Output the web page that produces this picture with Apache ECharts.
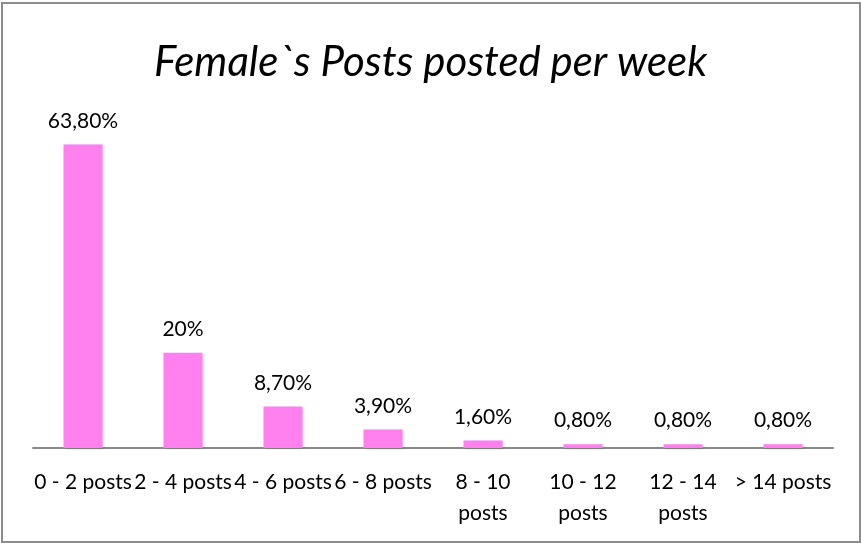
<!DOCTYPE html>
<html>
<head>
<meta charset="utf-8">
<style>
  html, body { margin: 0; padding: 0; background: #fff; }
  #frame { position: absolute; left: 1px; top: 2px; width: 856px; height: 537px; border: 2px solid #8c8c8c; box-sizing: content-box; }
  #chart { position: absolute; left: 0; top: 0; width: 861px; height: 543px; }
</style>
<script src="https://cdn.jsdelivr.net/npm/echarts@6/dist/echarts.min.js"></script>
</head>
<body>
<div id="frame"></div>
<div id="chart"></div>
<script>
const titleText = "Female`s Posts posted per week";
const categories = ["0 - 2 posts", "2 - 4 posts", "4 - 6 posts", "6 - 8 posts", "8 - 10\nposts", "10 - 12\nposts", "12 - 14\nposts", "> 14 posts"];
const values = [63.8, 20, 8.7, 3.9, 1.6, 0.8, 0.8, 0.8];
const valueLabels = ["63,80%", "20%", "8,70%", "3,90%", "1,60%", "0,80%", "0,80%", "0,80%"];

const chart = echarts.init(document.getElementById('chart'), null, { renderer: 'canvas' });
const FONT = 'Lato';
chart.setOption({
  animation: false,
  backgroundColor: 'transparent',
  title: {
    text: titleText,
    left: 'center',
    top: 36,
    textStyle: { fontFamily: FONT, fontStyle: 'italic', fontWeight: 'normal', fontSize: 42, color: '#000' }
  },
  grid: { left: 33, right: 28, top: 115, bottom: 95, containLabel: false },
  xAxis: {
    type: 'category',
    data: categories,
    axisLine: { show: true, lineStyle: { color: '#888', width: 2 } },
    axisTick: { show: false },
    axisLabel: { interval: 0, margin: 19, fontFamily: FONT, fontSize: 21, color: '#000', lineHeight: 31 }
  },
  yAxis: {
    type: 'value',
    min: 0,
    max: 70,
    show: false,
    splitLine: { show: false }
  },
  series: [{
    type: 'bar',
    data: values,
    barWidth: 39,
    itemStyle: { color: '#ff80ee', shadowColor: 'rgba(0,0,0,0.15)', shadowBlur: 3, shadowOffsetX: 1, shadowOffsetY: 1 },
    label: {
      show: true,
      position: 'top',
      distance: 13,
      fontFamily: FONT,
      fontSize: 21,
      color: '#000',
      formatter: function (p) { return valueLabels[p.dataIndex]; }
    }
  }]
});
</script>
</body>
</html>
